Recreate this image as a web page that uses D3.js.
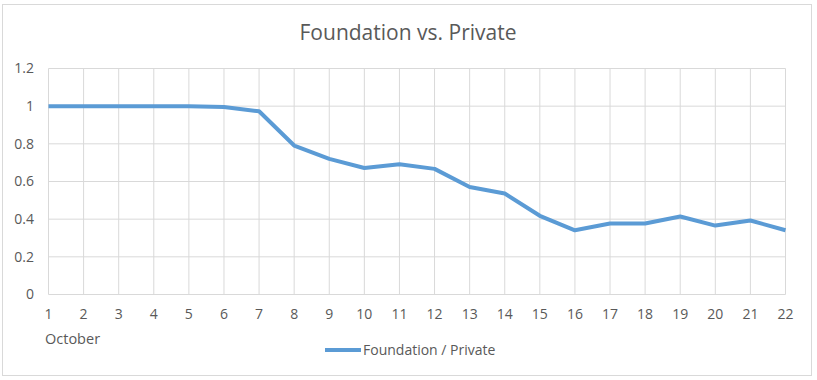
<!DOCTYPE html>
<html><head><meta charset="utf-8">
<script src="https://cdn.jsdelivr.net/npm/d3@7"></script>
<style>body{margin:0;background:#fff;} svg text{font-family:"Open Sans",sans-serif;fill:#595959;}</style>
</head><body>
<svg id="c" width="817" height="380"></svg>
<script>
const days = [1,2,3,4,5,6,7,8,9,10,11,12,13,14,15,16,17,18,19,20,21,22];
const ratio = [1,1,1,1,1,0.995,0.973,0.791,0.72,0.672,0.692,0.667,0.571,0.536,0.418,0.341,0.377,0.377,0.414,0.366,0.393,0.341];
const yTicks = [0,0.2,0.4,0.6,0.8,1,1.2];
const title = "Foundation vs. Private";
const seriesName = "Foundation / Private";
const xTitle = "October";

const svg = d3.select("#c");
svg.append("rect").attr("x",2.5).attr("y",4.5).attr("width",809).attr("height",371)
  .attr("fill","#fff").attr("stroke","#d9d9d9");

const x = d3.scaleLinear().domain([1,22]).range([48.5,785.5]);
const y = d3.scaleLinear().domain([0,1.2]).range([294.5,68.5]);

svg.append("g").selectAll("line").data(yTicks).join("line")
  .attr("x1",x(1)).attr("x2",x(22)).attr("y1",d=>y(d)).attr("y2",d=>y(d))
  .attr("stroke","#d9d9d9");
svg.append("g").selectAll("line").data(days).join("line")
  .attr("x1",d=>x(d)).attr("x2",d=>x(d)).attr("y1",y(0)).attr("y2",y(1.2))
  .attr("stroke","#d9d9d9");

svg.append("g").selectAll("text").data(yTicks).join("text")
  .attr("x",34).attr("y",d=>y(d)).attr("dy","0.35em").attr("text-anchor","end")
  .attr("font-size",14).text(d=>d3.format("~g")(d));
svg.append("g").selectAll("text").data(days).join("text")
  .attr("x",d=>x(d)).attr("y",314).attr("dy","0.35em").attr("text-anchor","middle")
  .attr("font-size",14).text(d=>d);
svg.append("text").attr("x",45).attr("y",339).attr("dy","0.35em").attr("font-size",14.5).text(xTitle);

svg.append("path").datum(days.map((d,i)=>[d,ratio[i]]))
  .attr("fill","none").attr("stroke","#5b9bd5").attr("stroke-width",4).attr("stroke-linejoin","round")
  .attr("d",d3.line().x(d=>x(d[0])).y(d=>y(d[1])));

svg.append("text").attr("x",408).attr("y",33).attr("dy","0.35em").attr("text-anchor","middle")
  .attr("font-size",21).text(title);

svg.append("line").attr("x1",325).attr("x2",361).attr("y1",350).attr("y2",350)
  .attr("stroke","#5b9bd5").attr("stroke-width",4);
svg.append("text").attr("x",363).attr("y",350).attr("dy","0.35em").attr("font-size",14).text(seriesName);
</script>
</body></html>
